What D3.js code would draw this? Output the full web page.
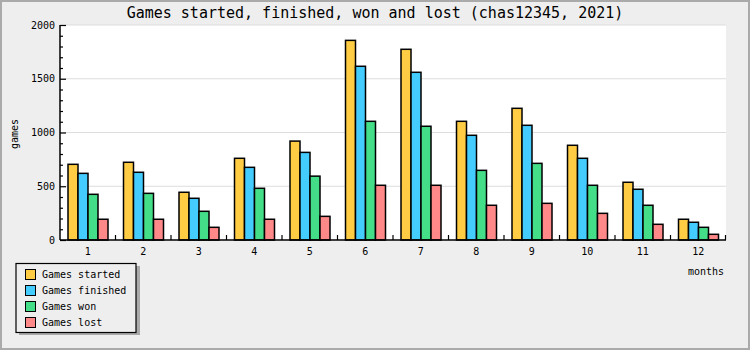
<!DOCTYPE html>
<html>
<head>
<meta charset="utf-8">
<script src="https://cdn.jsdelivr.net/npm/d3@7"></script>
<style>
  body { margin: 0; background: #eeeeee; }
  svg { display: block; }
  text { font-family: "DejaVu Sans Mono", monospace; fill: #000; }
</style>
</head>
<body>
<svg width="750" height="350"></svg>
<script>
var months = ["1","2","3","4","5","6","7","8","9","10","11","12"];
var started  = [704, 723, 444, 760, 920, 1857, 1774, 1104, 1225, 881, 537, 193];
var finished = [620, 630, 388, 676, 815, 1616, 1560, 974, 1067, 760, 472, 165];
var won      = [425, 434, 267, 481, 594, 1104, 1058, 648, 713, 509, 323, 118];
var lost     = [193, 193, 118, 193, 220, 509, 509, 323, 341, 248, 146, 53];
var seriesNames = ["Games started", "Games finished", "Games won", "Games lost"];
var colors = ["#ffcc44", "#44ccff", "#44dd88", "#ff8888"];
var yTicks = [0, 500, 1000, 1500, 2000];

var svg = d3.select("svg");
var width = +svg.attr("width");
var height = +svg.attr("height");

// plot area edges
var plotL = 60, plotR = 726, plotT = 25, plotB = 240;

// background + border
svg.append("rect")
  .attr("x", 1).attr("y", 1)
  .attr("width", width - 2).attr("height", height - 2)
  .attr("fill", "#eeeeee")
  .attr("stroke", "#aaaaaa")
  .attr("stroke-width", 2);

svg.append("rect")
  .attr("x", plotL).attr("y", plotT)
  .attr("width", plotR - plotL).attr("height", plotB - plotT)
  .attr("fill", "#ffffff");

var x = d3.scaleBand().domain(months).range([plotL, plotR]);
var x1 = d3.scaleBand().domain(seriesNames).range([8, 48]);
var y = d3.scaleLinear().domain([0, 2000]).range([plotB, plotT]);

// gridlines
svg.append("g")
  .selectAll("line")
  .data(yTicks.slice(1))
  .enter()
  .append("line")
  .attr("x1", plotL).attr("x2", plotR)
  .attr("y1", function(d) { return y(d); })
  .attr("y2", function(d) { return y(d); })
  .attr("stroke", "#dddddd")
  .attr("stroke-width", 1);

// bars
var series = [started, finished, won, lost];
var groups = svg.append("g")
  .selectAll("g")
  .data(months)
  .enter()
  .append("g")
  .attr("transform", function(d) { return "translate(" + x(d) + ",0)"; });

groups.selectAll("rect")
  .data(function(m, i) {
    return seriesNames.map(function(s, k) { return {s: s, k: k, v: series[k][i]}; });
  })
  .enter()
  .append("rect")
  .attr("x", function(d) { return x1(d.s); })
  .attr("width", x1.bandwidth())
  .attr("y", function(d) { return y(d.v); })
  .attr("height", function(d) { return plotB - y(d.v); })
  .attr("fill", function(d) { return colors[d.k]; })
  .attr("stroke", "#000")
  .attr("stroke-width", 1.5);

// y axis, minor ticks every 100
var yAxis = d3.axisRight(y).tickValues(d3.range(0, 2001, 100)).tickSize(3).tickFormat("");
var ya = svg.append("g").attr("transform", "translate(" + plotL + ",0)").call(yAxis);
ya.select(".domain").remove();
ya.selectAll("line").attr("stroke", "#000").attr("stroke-width", 1.2);
ya.selectAll(".tick")
  .filter(function(d) { return d % 500 == 0; })
  .select("line").attr("x2", 6);

svg.append("g")
  .selectAll("text")
  .data(yTicks)
  .enter()
  .append("text")
  .attr("x", plotL - 5)
  .attr("y", function(d) { return y(d); })
  .attr("dy", "0.35em")
  .attr("text-anchor", "end")
  .style("font-size", "10px")
  .text(function(d) { return d; });

svg.append("line")
  .attr("x1", plotL).attr("x2", plotL)
  .attr("y1", plotT).attr("y2", plotB)
  .attr("stroke", "#000").attr("stroke-width", 1.5);

// x axis
svg.append("line")
  .attr("x1", plotL).attr("x2", plotR)
  .attr("y1", plotB).attr("y2", plotB)
  .attr("stroke", "#000").attr("stroke-width", 1.5);

svg.append("g")
  .selectAll("line")
  .data(months.slice(1).concat(["end"]))
  .enter()
  .append("line")
  .attr("x1", function(d) { return d == "end" ? plotR - 0.5 : x(d); })
  .attr("x2", function(d) { return d == "end" ? plotR - 0.5 : x(d); })
  .attr("y1", plotB).attr("y2", plotB - 5)
  .attr("stroke", "#000").attr("stroke-width", 1.2);

svg.append("g")
  .selectAll("text")
  .data(months)
  .enter()
  .append("text")
  .attr("x", function(d) { return x(d) + x.bandwidth() / 2; })
  .attr("y", 251)
  .attr("dy", "0.35em")
  .attr("text-anchor", "middle")
  .style("font-size", "10px")
  .text(function(d) { return d; });

// titles
svg.append("text")
  .attr("x", width / 2).attr("y", 13)
  .attr("dy", "0.35em")
  .attr("text-anchor", "middle")
  .style("font-size", "15px")
  .text("Games started, finished, won and lost (chas12345, 2021)");

svg.append("text")
  .attr("x", 724).attr("y", 271)
  .attr("dy", "0.35em")
  .attr("text-anchor", "end")
  .style("font-size", "10px")
  .text("months");

svg.append("text")
  .attr("transform", "translate(14,134) rotate(-90)")
  .attr("dy", "0.35em")
  .attr("text-anchor", "middle")
  .style("font-size", "10px")
  .text("games");

// legend with shadow
svg.append("rect")
  .attr("x", 19).attr("y", 266)
  .attr("width", 121).attr("height", 69)
  .attr("fill", "#aaaaaa");
svg.append("rect")
  .attr("x", 16).attr("y", 263.5)
  .attr("width", 120).attr("height", 69)
  .attr("fill", "#eeeeee")
  .attr("stroke", "#000").attr("stroke-width", 1.2);

var leg = svg.append("g")
  .selectAll("g")
  .data(seriesNames)
  .enter()
  .append("g")
  .attr("transform", function(d, i) { return "translate(0," + (274 + i * 16) + ")"; });

leg.append("rect")
  .attr("x", 25.5).attr("y", -4.5)
  .attr("width", 10).attr("height", 10)
  .attr("fill", function(d, i) { return colors[i]; })
  .attr("stroke", "#000").attr("stroke-width", 1);

leg.append("text")
  .attr("x", 42).attr("y", 0)
  .attr("dy", "0.35em")
  .style("font-size", "10px")
  .text(function(d) { return d; });
</script>
</body>
</html>
